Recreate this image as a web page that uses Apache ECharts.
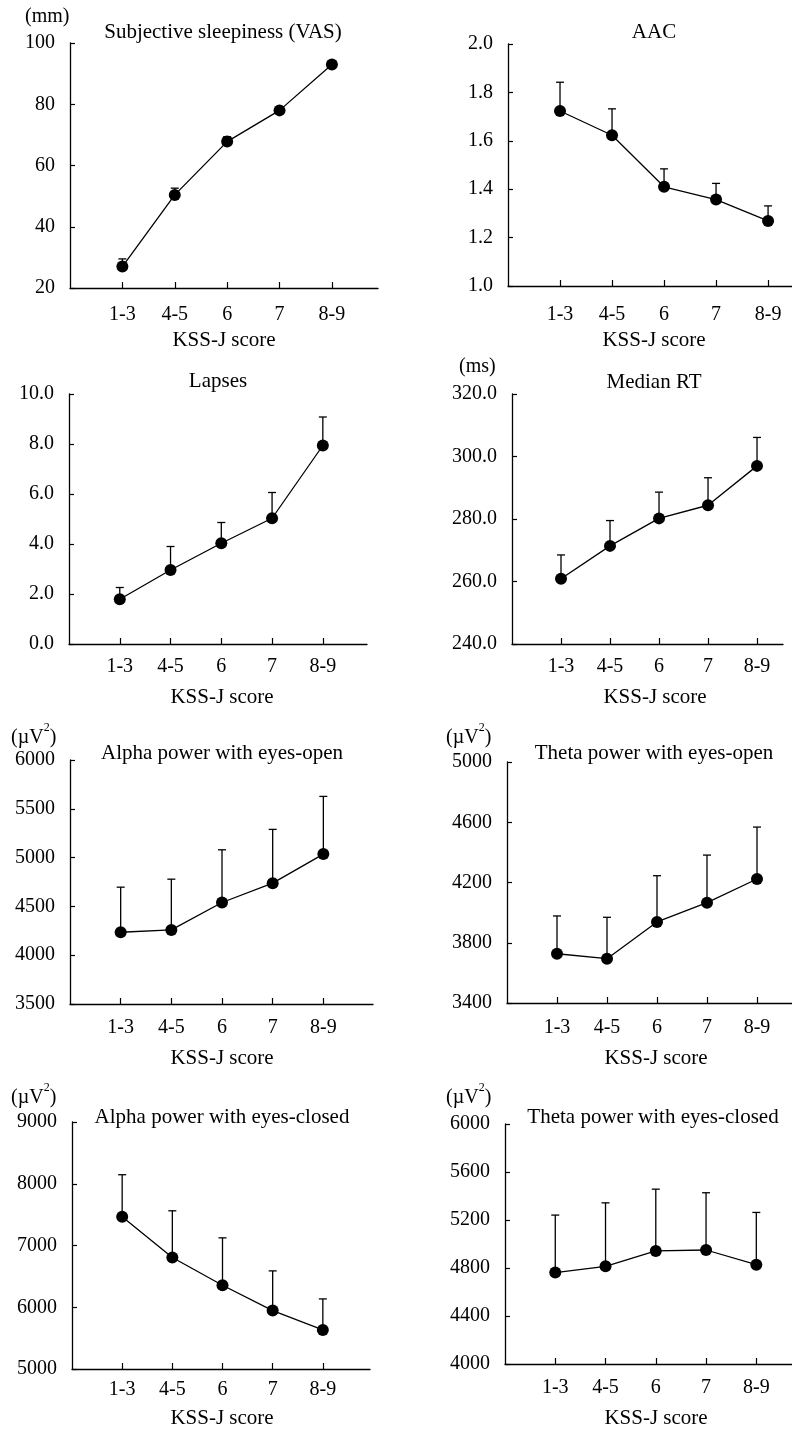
<!DOCTYPE html>
<html>
<head>
<meta charset="utf-8">
<script src="https://cdn.jsdelivr.net/npm/echarts@6/dist/echarts.min.js"></script>
<style>
html,body{margin:0;padding:0;background:#fff;}
#chart{width:792px;height:1430px;}
</style>
</head>
<body>
<div id="chart"></div>
<script>
// ---- data ----
const categories = ['1-3', '4-5', '6', '7', '8-9'];
const xAxisTitle = 'KSS-J score';

const titles = [
  'Subjective sleepiness (VAS)', 'AAC',
  'Lapses', 'Median RT',
  'Alpha power with eyes-open', 'Theta power with eyes-open',
  'Alpha power with eyes-closed', 'Theta power with eyes-closed'
];
const units = ['(mm)', '', '', '(ms)', 'uv2', 'uv2', 'uv2', 'uv2'];

const vasMean = [27.0, 50.4, 67.8, 78.0, 93.0];
const vasSD = [2.5, 2.2, 1.6, 1.0, 0.8];
const aacMean = [1.723, 1.623, 1.410, 1.357, 1.269];
const aacSD = [0.119, 0.109, 0.074, 0.067, 0.062];
const lapsesMean = [1.79, 2.96, 4.03, 5.03, 7.94];
const lapsesSD = [0.47, 0.94, 0.83, 1.03, 1.14];
const rtMean = [260.9, 271.4, 280.2, 284.4, 297.0];
const rtSD = [7.6, 8.1, 8.4, 8.8, 9.1];
const alphaOpenMean = [4235, 4259, 4540, 4738, 5036];
const alphaOpenSD = [462, 520, 540, 551, 591];
const thetaOpenMean = [3727, 3694, 3938, 4066, 4223];
const thetaOpenSD = [251, 275, 307, 316, 345];
const alphaClosedMean = [7465, 6805, 6357, 5946, 5632];
const alphaClosedSD = [681, 757, 767, 643, 503];
const thetaClosedMean = [4762, 4814, 4942, 4950, 4828];
const thetaClosedSD = [479, 529, 515, 477, 435];

// y-axis ranges / tick steps
const yMin = [20, 1.0, 0, 240, 3500, 3400, 5000, 4000];
const yMax = [100, 2.0, 10, 320, 6000, 5000, 9000, 6000];
const yStep = [20, 0.2, 2, 20, 500, 400, 1000, 400];
const yDecimals = [0, 1, 1, 1, 0, 0, 0, 0];

const means = [vasMean, aacMean, lapsesMean, rtMean, alphaOpenMean, thetaOpenMean, alphaClosedMean, thetaClosedMean];
const sds = [vasSD, aacSD, lapsesSD, rtSD, alphaOpenSD, thetaOpenSD, alphaClosedSD, thetaClosedSD];

// ---- layout (pixels) ----
const layout = [
  {left: 70,  top: 43,   width: 308, height: 245, xMax: 5.88, lm: 17, tx: 223, ty: 32,   ux: 25,  uy: 17,   nx: 224, ny: 340},
  {left: 508, top: 44,   width: 284, height: 242, xMax: 5.46, lm: 19, tx: 654, ty: 32,   ux: 0,   uy: 0,    nx: 654, ny: 340},
  {left: 69,  top: 394,  width: 298, height: 250, xMax: 5.87, lm: 13, tx: 218, ty: 381,  ux: 0,   uy: 0,    nx: 222, ny: 697},
  {left: 512, top: 394,  width: 271, height: 250, xMax: 5.53, lm: 13, tx: 654, ty: 382,  ux: 459, uy: 367,  nx: 655, ny: 697},
  {left: 70,  top: 760,  width: 303, height: 244, xMax: 5.98, lm: 14, tx: 222, ty: 753,  ux: 11,  uy: 738,  nx: 222, ny: 1058},
  {left: 507, top: 762,  width: 285, height: 241, xMax: 5.70, lm: 15, tx: 654, ty: 753,  ux: 446, uy: 738,  nx: 656, ny: 1058},
  {left: 72,  top: 1122, width: 298, height: 247, xMax: 5.94, lm: 11, tx: 222, ty: 1117, ux: 11,  uy: 1098, nx: 222, ny: 1418},
  {left: 505, top: 1124, width: 287, height: 240, xMax: 5.71, lm: 14, tx: 653, ty: 1117, ux: 446, uy: 1098, nx: 656, ny: 1418}
];

const FONT = "'Liberation Serif','Times New Roman',serif";
const chart = echarts.init(document.getElementById('chart'), null, {renderer: 'canvas'});

const grid = [], xAxis = [], yAxis = [], series = [], graphic = [];
const tickIdx = categories.map((c, i) => i + 1);

layout.forEach((L, k) => {
  grid.push({left: L.left, top: L.top, width: L.width, height: L.height, containLabel: false});
  xAxis.push({
    type: 'value', gridIndex: k, min: 0, max: L.xMax, interval: 1,
    splitLine: {show: false},
    axisLine: {show: true, onZero: false, lineStyle: {color: '#000', width: 1.3}},
    axisTick: {show: true, inside: true, length: 6, customValues: tickIdx, lineStyle: {color: '#000', width: 1.2}},
    axisLabel: {show: true, margin: L.lm, customValues: tickIdx, color: '#000', fontFamily: FONT, fontSize: 20,
      formatter: v => categories[Math.round(v) - 1] || ''}
  });
  yAxis.push({
    type: 'value', gridIndex: k, min: yMin[k], max: yMax[k], interval: yStep[k],
    splitLine: {show: false},
    axisLine: {show: true, onZero: false, lineStyle: {color: '#000', width: 1.3}},
    axisTick: {show: true, inside: true, length: 5, lineStyle: {color: '#000', width: 1.2}},
    axisLabel: {show: true, margin: 15, color: '#000', fontFamily: FONT, fontSize: 20,
      formatter: v => v.toFixed(yDecimals[k])}
  });
  const m = means[k], s = sds[k];
  series.push({
    type: 'custom', xAxisIndex: k, yAxisIndex: k, z: 2,
    data: m.map((v, i) => [i + 1, v, v + s[i]]),
    renderItem: (params, api) => {
      const p0 = api.coord([api.value(0), api.value(1)]);
      const p1 = api.coord([api.value(0), api.value(2)]);
      const st = {stroke: '#000', lineWidth: 1.3};
      return {type: 'group', children: [
        {type: 'line', shape: {x1: p0[0], y1: p0[1], x2: p1[0], y2: p1[1]}, style: st},
        {type: 'line', shape: {x1: p1[0] - 4, y1: p1[1], x2: p1[0] + 4, y2: p1[1]}, style: st}
      ]};
    }
  });
  series.push({
    type: 'line', xAxisIndex: k, yAxisIndex: k, z: 3,
    data: m.map((v, i) => [i + 1, v]),
    symbol: 'circle', symbolSize: 12, showSymbol: true,
    itemStyle: {color: '#000'},
    lineStyle: {color: '#000', width: 1.3},
    animation: false
  });
  graphic.push({type: 'text', x: L.tx, y: L.ty, style: {text: titles[k], font: '21px ' + FONT, fill: '#000', align: 'center', verticalAlign: 'middle'}});
  graphic.push({type: 'text', x: L.nx, y: L.ny, style: {text: xAxisTitle, font: '21px ' + FONT, fill: '#000', align: 'center', verticalAlign: 'middle'}});
  if (units[k] === 'uv2') {
    graphic.push({type: 'text', x: L.ux, y: L.uy, style: {
      text: '{a|(µV}{b|2}{a|)}', align: 'left', verticalAlign: 'middle',
      rich: {a: {fontFamily: FONT, fontSize: 20, color: '#000'},
             b: {fontFamily: FONT, fontSize: 12, color: '#000', padding: [0, 0, 20, 0]}}
    }});
  } else if (units[k]) {
    graphic.push({type: 'text', x: L.ux, y: L.uy, style: {text: units[k], font: '20px ' + FONT, fill: '#000', align: 'left', verticalAlign: 'middle'}});
  }
});

chart.setOption({
  animation: false,
  backgroundColor: '#fff',
  grid, xAxis, yAxis, series, graphic
});
</script>
</body>
</html>
